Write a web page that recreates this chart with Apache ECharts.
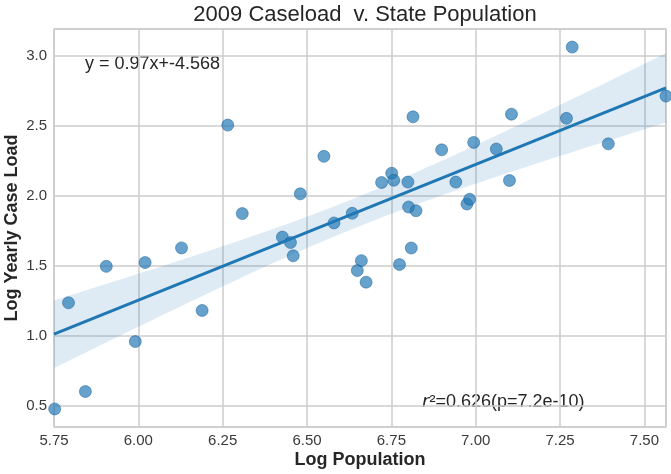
<!DOCTYPE html>
<html>
<head>
<meta charset="utf-8">
<title>2009 Caseload v. State Population</title>
<script src="https://cdn.jsdelivr.net/npm/echarts@6/dist/echarts.min.js"></script>
<style>
  html, body { margin: 0; padding: 0; background: #fff; }
  #chart { width: 671px; height: 474px; }
</style>
</head>
<body>
<div id="chart"></div>
<script>
// log10 state population vs log10 yearly caseload, one point per state
const logPopulation = [
  5.752, 5.793, 5.843, 5.905, 5.991, 6.020, 6.128, 6.189, 6.265, 6.308,
  6.427, 6.451, 6.459, 6.480, 6.550, 6.580, 6.634, 6.649, 6.661, 6.675,
  6.721, 6.751, 6.757, 6.774, 6.799, 6.801, 6.809, 6.814, 6.823, 6.899,
  6.941, 6.974, 6.982, 6.994, 7.061, 7.100, 7.106, 7.269, 7.286, 7.393,
  7.564
]
const logCaseload = [
  0.476, 1.234, 0.600, 1.494, 0.957, 1.521, 1.626, 1.179, 2.503, 1.871,
  1.703, 1.664, 1.569, 2.012, 2.280, 1.804, 1.873, 1.464, 1.535, 1.381,
  2.093, 2.159, 2.109, 1.507, 2.096, 1.918, 1.625, 2.562, 1.891, 2.326,
  2.096, 1.939, 1.973, 2.379, 2.332, 2.107, 2.581, 2.551, 3.060, 2.369,
  2.710
]

// fit shown on the chart
const slope = 0.97
const intercept = -4.568
const rSquared = 0.626
const pValue = '7.2e-10'
const tCrit = 2.023 // t(0.975, n-2) for the 95% band

const xTicks = [5.75, 6.00, 6.25, 6.50, 6.75, 7.00, 7.25, 7.50]
const yTicks = [0.5, 1.0, 1.5, 2.0, 2.5, 3.0]

const n = logPopulation.length
const xMin = xTicks[0]
const xMax = Math.max(...logPopulation)
const yLo = Math.min(...logCaseload)
const yHi = Math.max(...logCaseload)
const yPad = (yHi - yLo) * 0.05

// confidence band around the regression line
const xMean = logPopulation.reduce((a, b) => a + b, 0) / n
const sxx = logPopulation.reduce((a, x) => a + (x - xMean) ** 2, 0)
const sse = logPopulation.reduce((a, x, i) => a + (logCaseload[i] - (slope * x + intercept)) ** 2, 0)
const sRes = Math.sqrt(sse / (n - 2))

const upper = []
const lower = []
for (let k = 0; k <= 80; k++) {
  const x = xMin + (xMax - xMin) * k / 80
  const fit = slope * x + intercept
  const half = tCrit * sRes * Math.sqrt(1 / n + (x - xMean) ** 2 / sxx)
  upper.push([x, fit + half])
  lower.push([x, fit - half])
}

const points = logPopulation.map((x, i) => [x, logCaseload[i]])
const fitLine = [[xMin, slope * xMin + intercept], [xMax, slope * xMax + intercept]]

const font = '"Liberation Sans", Arial, Helvetica, sans-serif'
const gridColor = '#cccccc'

const chart = echarts.init(document.getElementById('chart'))

chart.setOption({
  backgroundColor: '#fff',
  animation: false,
  title: {
    text: '2009 Caseload  v. State Population',
    left: 360,
    top: -1,
    textAlign: 'center',
    textStyle: { fontFamily: font, fontSize: 22, fontWeight: 'normal', color: '#262626' }
  },
  grid: {
    left: 54, right: 5, top: 29, bottom: 47,
    outerBoundsMode: 'none',
    containLabel: false,
    show: true, borderColor: gridColor, borderWidth: 1.5, backgroundColor: '#fff'
  },
  xAxis: {
    type: 'value',
    min: xMin,
    max: xMax,
    interval: xTicks[1] - xTicks[0],
    name: 'Log Population',
    nameLocation: 'middle',
    nameGap: 24,
    nameMoveOverlap: false,
    nameTextStyle: { fontFamily: font, fontSize: 18, fontWeight: 'bold', color: '#262626' },
    axisLine: { show: false },
    axisTick: { show: false },
    axisLabel: {
      margin: 6,
      fontFamily: font, fontSize: 15, color: '#3a3a3a',
      showMaxLabel: false,
      formatter: v => v.toFixed(2)
    },
    splitLine: { show: true, lineStyle: { color: gridColor, width: 1.5 } }
  },
  yAxis: {
    type: 'value',
    min: yLo - yPad,
    max: yHi + yPad,
    splitNumber: yTicks.length - 1,
    minInterval: yTicks[1] - yTicks[0],
    maxInterval: yTicks[1] - yTicks[0],
    name: 'Log Yearly Case Load',
    nameLocation: 'middle',
    nameGap: 33,
    nameMoveOverlap: false,
    nameTextStyle: { fontFamily: font, fontSize: 18, fontWeight: 'bold', color: '#262626' },
    axisLine: { show: false },
    axisTick: { show: false },
    axisLabel: {
      margin: 7,
      fontFamily: font, fontSize: 15, color: '#3a3a3a',
      showMinLabel: false,
      showMaxLabel: false,
      formatter: v => v.toFixed(1)
    },
    splitLine: { show: true, lineStyle: { color: gridColor, width: 1.5 } }
  },
  graphic: [
    {
      type: 'text',
      x: 85, y: 64,
      style: {
        text: 'y = ' + slope + 'x+' + intercept,
        font: '18px ' + font,
        fill: '#262626',
        verticalAlign: 'middle'
      }
    },
    {
      type: 'text',
      x: 422, y: 402,
      style: {
        text: '{i|r}²=' + rSquared + '(p=' + pValue + ')',
        font: '18px ' + font,
        fill: '#262626',
        verticalAlign: 'middle',
        rich: {
          i: { fontFamily: '"DejaVu Sans", sans-serif', fontStyle: 'italic', fontSize: 18, fill: '#262626' }
        }
      }
    }
  ],
  series: [
    {
      type: 'custom',
      silent: true,
      clip: true,
      z: 1,
      data: [[xMin, 0]],
      renderItem: (params, api) => {
        const pts = upper.map(p => api.coord(p))
          .concat(lower.slice().reverse().map(p => api.coord(p)))
        return {
          type: 'polygon',
          shape: { points: pts },
          style: { fill: 'rgba(31,119,180,0.15)' }
        }
      }
    },
    {
      type: 'scatter',
      z: 2,
      symbolSize: 12,
      data: points,
      itemStyle: {
        color: 'rgba(31,119,180,0.85)',
        borderColor: 'rgba(20,90,150,0.6)',
        borderWidth: 1
      }
    },
    {
      type: 'line',
      z: 3,
      data: fitLine,
      symbol: 'none',
      silent: true,
      lineStyle: { color: '#1f77b4', width: 3 }
    }
  ]
})
</script>
</body>
</html>
